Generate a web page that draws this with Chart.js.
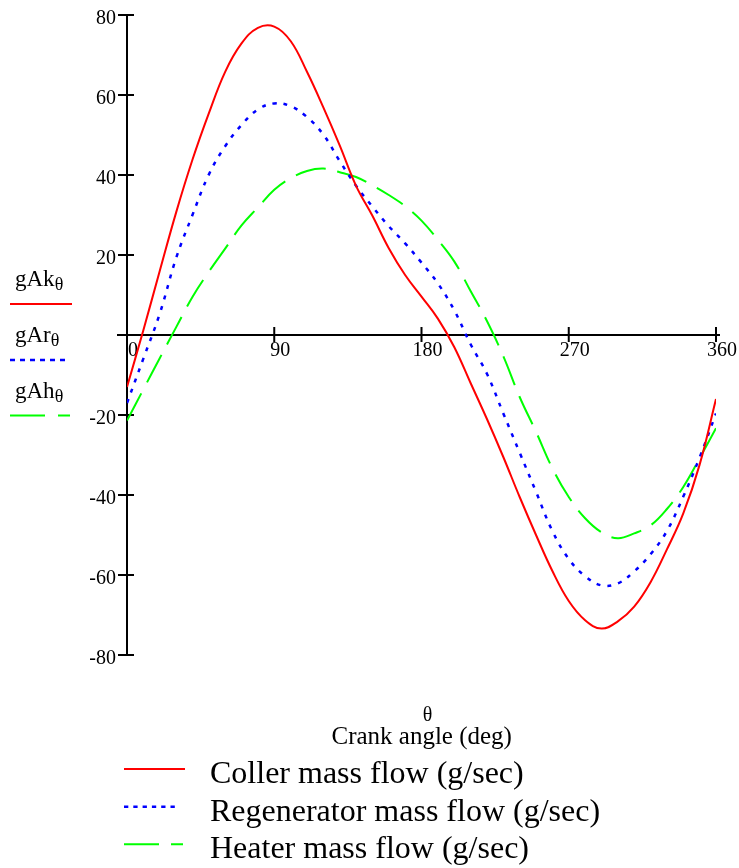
<!DOCTYPE html>
<html>
<head>
<meta charset="utf-8">
<script src="https://cdn.jsdelivr.net/npm/chart.js@4.4.1/dist/chart.umd.min.js"></script>
<style>
  html, body { margin: 0; padding: 0; background: #fff; }
  #wrap { position: relative; width: 739px; height: 868px; }
  #wrap canvas { position: absolute; left: 0; top: 0; }
  #overlay { position: absolute; left: 0; top: 0; pointer-events: none; }
  #overlay text { font-family: "Liberation Serif", "Times New Roman", serif; fill: #000; }
</style>
</head>
<body>
<div id="wrap">
  <canvas id="c" width="739" height="868"></canvas>
  <svg id="overlay" width="739" height="868" xmlns="http://www.w3.org/2000/svg">
    <text x="15" y="286" font-size="23">gAk<tspan font-size="18" dy="4">θ</tspan></text>
    <line x1="10" y1="304" x2="72" y2="304" stroke="#ff0000" stroke-width="2"/>
    <text x="15" y="342" font-size="23">gAr<tspan font-size="18" dy="4">θ</tspan></text>
    <line x1="10" y1="360" x2="65" y2="360" stroke="#0000ff" stroke-width="2.5" stroke-dasharray="5 5"/>
    <text x="15" y="398" font-size="23">gAh<tspan font-size="18" dy="4">θ</tspan></text>
    <line x1="10" y1="415.5" x2="70" y2="415.5" stroke="#00ff00" stroke-width="2" stroke-dasharray="35 13"/>

    <text x="427.5" y="720.5" font-size="20" text-anchor="middle">θ</text>
    <text x="421.7" y="744" font-size="25" text-anchor="middle">Crank angle (deg)</text>

    <line x1="124" y1="769" x2="185" y2="769" stroke="#ff0000" stroke-width="2"/>
    <text x="210" y="783" font-size="32">Coller mass flow (g/sec)</text>
    <line x1="124" y1="806.7" x2="178" y2="806.7" stroke="#0000ff" stroke-width="2.5" stroke-dasharray="4.3 5"/>
    <text x="210" y="821" font-size="32">Regenerator mass flow (g/sec)</text>
    <line x1="124" y1="844.3" x2="183" y2="844.3" stroke="#00ff00" stroke-width="2" stroke-dasharray="35 12"/>
    <text x="210" y="858.3" font-size="32">Heater mass flow (g/sec)</text>
  </svg>
</div>
<script>
// Crank angle (deg)
const angles = [0,10,20,30,40,50,60,70,80,90,100,110,120,130,140,150,160,170,180,
                190,200,210,220,230,240,250,260,270,280,290,300,310,320,330,340,350,360];
// gAk (cooler mass flow, g/sec)
const coolerFlow = [-13,1.2,16,30.6,43.8,55.4,65.8,72.9,76.8,77.1,73.5,65.8,56.9,47.4,37.3,29.8,21.7,15,9.6,
                    4.1,-3,-12,-21,-30.5,-40.5,-50,-59,-66.5,-71.3,-73.4,-71.6,-67.9,-61.8,-53.6,-44.6,-32.4,-16];
// gAr (regenerator mass flow, g/sec)
const regenFlow = [-17,-5.9,5.3,19.2,30,40.1,47.2,52.5,56.4,57.9,57.2,54.5,50.1,43.5,37.3,32.1,27.2,22.9,18.1,
                   12.9,6.2,-2.3,-9.7,-19.6,-29.4,-39.2,-49,-56,-60.3,-62.6,-62.1,-59.1,-54.8,-49,-40.4,-30.6,-19.6];
// gAh (heater mass flow, g/sec)
const heaterFlow = [-21.4,-13.6,-5.8,1.9,9.5,15.8,21.6,27.4,31.9,36.3,39.2,41,41.6,40.7,39.5,37.4,35,32.2,28.6,
                    23.8,18.4,11,3.5,-5.3,-15.5,-24.2,-33.3,-40.5,-45.8,-49.3,-50.8,-49.6,-47.6,-43.5,-38,-30.8,-23.3];
const xTickValues = [0,90,180,270,360];
const yTickValues = [-80,-60,-40,-20,0,20,40,60,80];

const FONT = "'Liberation Serif', 'Times New Roman', serif";

const toPts = arr => angles.map((a, i) => ({x: a, y: arr[i]}));

const axesPlugin = {
  id: 'mathcadAxes',
  beforeDatasetsDraw(chart) {
    const {ctx, scales: {x, y}} = chart;
    const x0 = x.getPixelForValue(0);
    const y0 = y.getPixelForValue(0);
    ctx.save();
    ctx.strokeStyle = '#000';
    ctx.lineWidth = 2;
    ctx.beginPath();
    ctx.moveTo(x0, y.getPixelForValue(80));
    ctx.lineTo(x0, y.getPixelForValue(-80));
    ctx.moveTo(x0 - 10, y0);
    ctx.lineTo(x.getPixelForValue(360) + 4, y0);
    yTickValues.forEach(v => {
      if (v === 0) return;
      const py = y.getPixelForValue(v);
      ctx.moveTo(x0 - 9, py);
      ctx.lineTo(x0 + 7, py);
    });
    xTickValues.forEach(v => {
      if (v === 0) return;
      const px = x.getPixelForValue(v);
      ctx.moveTo(px, y0 - 8);
      ctx.lineTo(px, y0 + 7);
    });
    ctx.stroke();
    ctx.restore();
  }
};

const noPad = s => { s.paddingTop = 0; s.paddingBottom = 0; s.paddingLeft = 0; s.paddingRight = 0; };

new Chart(document.getElementById('c'), {
  type: 'line',
  data: {
    datasets: [
      { label: 'Coller mass flow (g/sec)', data: toPts(coolerFlow), borderColor: '#ff0000',
        borderWidth: 2, pointRadius: 0, tension: 0.4, fill: false },
      { label: 'Regenerator mass flow (g/sec)', data: toPts(regenFlow), borderColor: '#0000ff',
        borderWidth: 2.5, borderDash: [4, 7], pointRadius: 0, tension: 0.4, fill: false },
      { label: 'Heater mass flow (g/sec)', data: toPts(heaterFlow), borderColor: '#00ff00',
        borderWidth: 2, borderDash: [31, 12], pointRadius: 0, tension: 0.4, fill: false }
    ]
  },
  options: {
    responsive: false,
    animation: false,
    devicePixelRatio: 1,
    layout: { padding: { left: 87, right: 23, top: 15, bottom: 213 } },
    plugins: { legend: { display: false }, tooltip: { enabled: false } },
    scales: {
      x: {
        type: 'linear', min: 0, max: 360,
        position: { y: 0 },
        afterFit: noPad,
        afterBuildTicks: s => { s.ticks = xTickValues.map(v => ({value: v})); },
        grid: { display: false, drawTicks: false },
        border: { display: false },
        ticks: { font: { family: FONT, size: 20 }, color: '#000', padding: 4, labelOffset: 6,
                 autoSkip: false, maxRotation: 0 }
      },
      y: {
        type: 'linear', min: -80, max: 80,
        position: 'left',
        afterFit: s => { s.width = 40; noPad(s); },
        afterBuildTicks: s => { s.ticks = yTickValues.map(v => ({value: v})); },
        grid: { display: false, drawTicks: false },
        border: { display: false },
        ticks: { font: { family: FONT, size: 20 }, color: '#000', padding: 11, labelOffset: 4,
                 autoSkip: false, callback: v => (v === 0 ? '' : String(v)) }
      }
    }
  },
  plugins: [axesPlugin]
});
</script>
</body>
</html>
